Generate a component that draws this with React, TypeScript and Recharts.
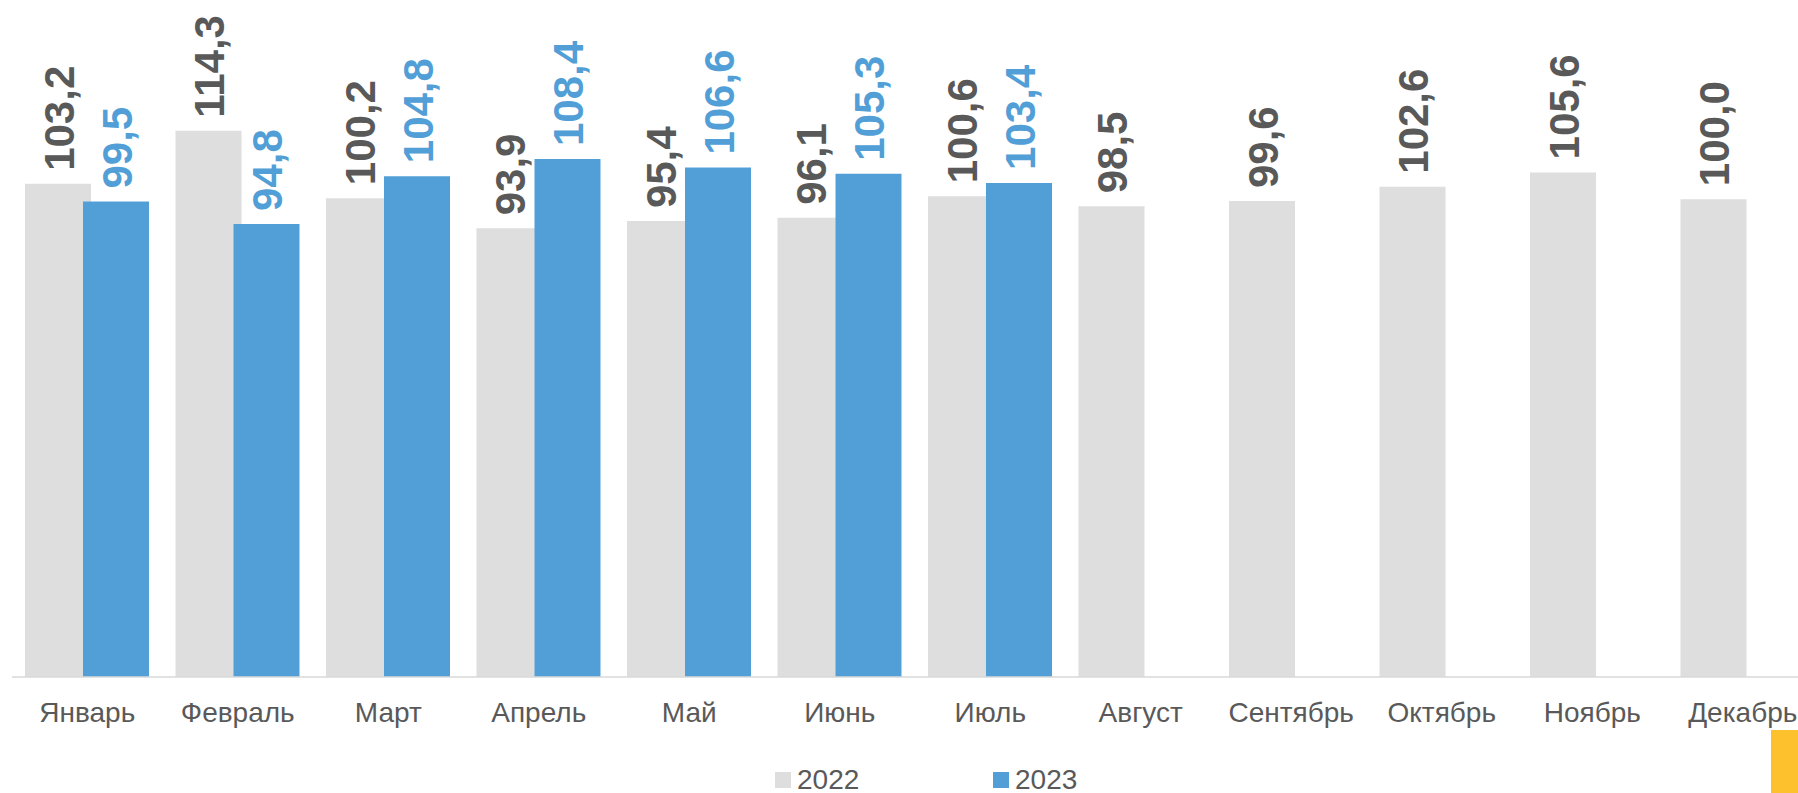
import { BarChart, Bar, XAxis, YAxis, LabelList, Legend } from 'recharts';

const months = ['Январь', 'Февраль', 'Март', 'Апрель', 'Май', 'Июнь', 'Июль', 'Август', 'Сентябрь', 'Октябрь', 'Ноябрь', 'Декабрь'];
const values2022 = [103.2, 114.3, 100.2, 93.9, 95.4, 96.1, 100.6, 98.5, 99.6, 102.6, 105.6, 100.0];
const values2023: (number | null)[] = [99.5, 94.8, 104.8, 108.4, 106.6, 105.3, 103.4, null, null, null, null, null];

const FONT = '"Liberation Sans", Arial, sans-serif';
const GRAY = '#DEDEDE';
const BLUE = '#529FD7';
const TEXT = '#595959';

const data = months.map((m, i) => ({ month: m, y2022: values2022[i], y2023: values2023[i] }));

const fmt = (v: number) => v.toFixed(1).replace('.', ',');

// rotated value label above each bar
const makeLabel = (color: string) => (props: any) => {
  const { x, y, width, value } = props;
  if (value === null || value === undefined) return null;
  const cx = Number(x) + Number(width) / 2;
  const ty = Number(y) - 13;
  return (
    <text
      x={cx}
      y={ty}
      transform={`rotate(-90 ${cx} ${ty})`}
      textAnchor="start"
      dy="0.37em"
      fill={color}
      fontSize={42}
      fontWeight={700}
      fontFamily={FONT}
    >
      {fmt(Number(value))}
    </text>
  );
};

const renderLegend = (props: any) => {
  const { payload } = props;
  return (
    <div style={{ display: 'flex', fontFamily: FONT, fontSize: 28, lineHeight: '28px', color: TEXT }}>
      {(payload || []).map((p: any) => (
        <div key={p.value} style={{ display: 'flex', alignItems: 'center', width: 218 }}>
          <span style={{ display: 'inline-block', width: 16, height: 16, background: p.color, marginRight: 6 }} />
          <span>{p.value}</span>
        </div>
      ))}
    </div>
  );
};

export default function App() {
  return (
    <div style={{ position: 'absolute', left: 0, top: 0, width: 1798, height: 793, overflow: 'hidden', background: '#fff' }}>
      <BarChart
        width={1830}
        height={793}
        data={data}
        margin={{ top: 8, right: 12, bottom: 0, left: 12 }}
        barSize={66}
        barGap={-8}
      >
        <XAxis
          dataKey="month"
          interval={0}
          height={116}
          tickLine={false}
          tickSize={0}
          tickMargin={25}
          axisLine={{ stroke: '#D9D9D9', strokeWidth: 1.5 }}
          tick={{ fontSize: 28, fill: TEXT, fontFamily: FONT }}
        />
        <YAxis hide domain={[0, 140]} />
        <Legend
          layout="horizontal"
          verticalAlign="middle"
          align="center"
          wrapperStyle={{ top: 766, left: 775, width: 500 }}
          content={renderLegend}
        />
        <Bar dataKey="y2022" name="2022" fill={GRAY} isAnimationActive={false}>
          <LabelList dataKey="y2022" content={makeLabel(TEXT)} />
        </Bar>
        <Bar dataKey="y2023" name="2023" fill={BLUE} isAnimationActive={false}>
          <LabelList dataKey="y2023" content={makeLabel(BLUE)} />
        </Bar>
      </BarChart>
      <div style={{ position: 'absolute', left: 1771, top: 730, width: 27, height: 63, background: '#FCC12D' }} />
    </div>
  );
}
